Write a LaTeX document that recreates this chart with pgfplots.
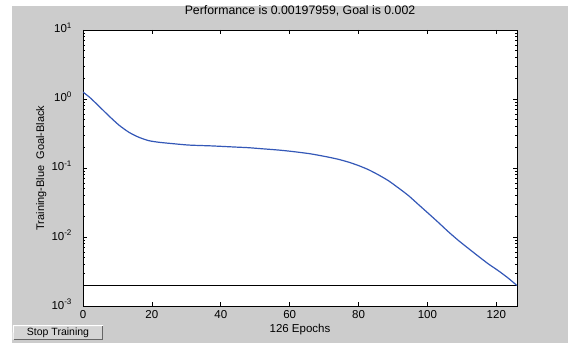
\documentclass[border=0pt]{standalone}
\usepackage{pgfplots}
\pgfplotsset{compat=1.18}
\usepackage{fontspec}
\setmainfont{Liberation Sans}
\definecolor{matgray}{RGB}{204,204,204}
\definecolor{trainblue}{RGB}{52,88,184}
\begin{document}
\fontsize{11.5}{13}\selectfont
\begin{tikzpicture}[x=1pt,y=1pt]
\useasboundingbox (0,0) rectangle (568,343);
\fill[white] (0,0) rectangle (568,343);
\fill[matgray] (12,0) rectangle (568,337);
% Stop Training button
\fill[matgray!85!white] (13,3) rectangle (103,18);
\draw[white, line width=1pt] (13,3.5) -- (13.5,17.5) -- (103,17.5);
\draw[black!60, line width=1pt] (13.5,3.5) -- (102.5,3.5) -- (102.5,17.5);
\node[font=\fontsize{10.5}{12}\selectfont] at (58,10.5) {Stop Training};
\begin{axis}[
  at={(83pt,37pt)}, anchor=south west,
  scale only axis, width=434pt, height=276pt,
  xmin=0, xmax=126, ymode=log, ymin=1e-3, ymax=10,
  xtick={0,20,40,60,80,100,120},
  ytick={1e-3,1e-2,1e-1,1,10},
  yticklabels={10\textsuperscript{-3},10\textsuperscript{-2},10\textsuperscript{-1},10\textsuperscript{0},10\textsuperscript{1}},
  ticklabel style={font=\fontsize{11.5}{13}\selectfont},
  xticklabel style={anchor=base, yshift=-12pt},
  yticklabel style={anchor=base east, xshift=-7pt, yshift=-3pt},
  /pgf/number format/assume math mode=true,
  tick align=inside,
  major tick length=4pt, minor tick length=2pt,
  every tick/.style={black, line width=0.6pt},
  axis line style={black, line width=0.9pt},
  axis background/.style={fill=white},
  title={Performance is 0.00197959, Goal is 0.002},
  title style={font=\fontsize{12.3}{14}\selectfont, at={([yshift=9pt]axis description cs:0.5,1)}, anchor=base},
  xlabel={126 Epochs},
  xlabel style={font=\fontsize{11.5}{13}\selectfont, at={([yshift=-26pt]axis description cs:0.5,0)}, anchor=base},
  ylabel={Training-Blue\ \ Goal-Black},
  ylabel style={font=\fontsize{11}{13}\selectfont, at={([xshift=-39pt]axis description cs:0,0.5)}, anchor=base, rotate=0},
  clip=true,
]
\addplot[black, line width=1.3pt] coordinates {(0,0.002) (126,0.002)};
\addplot[trainblue, line width=1.2pt, smooth, tension=0.4] coordinates {
(0,1.26) (2,1.05) (4.6,0.79) (7.5,0.57) (10.4,0.42) (13.3,0.33) (16.2,0.279)
(19.1,0.249) (22,0.236) (25,0.228) (30.7,0.215) (37.4,0.209) (44.3,0.201)
(48,0.197) (52,0.19) (56.8,0.182) (61,0.173) (65.5,0.162) (68.4,0.153)
(71.3,0.1435) (74.2,0.1334) (77.1,0.1216) (80,0.1084) (82.9,0.0944)
(85.8,0.0794) (88.7,0.0653) (91.6,0.0513) (94.5,0.0398) (97.4,0.0295)
(100.3,0.0219) (103.2,0.0162) (106,0.0120) (109,0.0089) (112,0.00676)
(114.8,0.00525) (117.7,0.00407) (120.6,0.00324) (123.3,0.00257) (126,0.00198)
};
\end{axis}
\end{tikzpicture}
\end{document}
